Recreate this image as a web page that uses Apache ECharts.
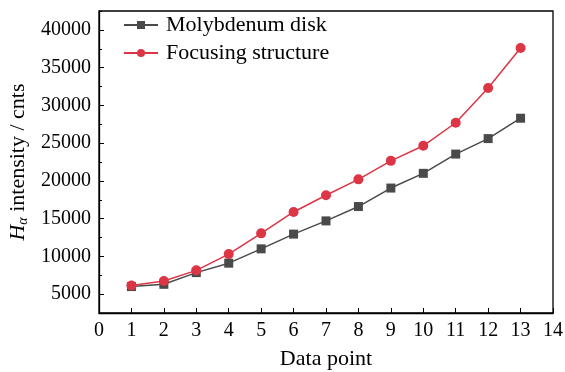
<!DOCTYPE html>
<html><head><meta charset="utf-8">
<script src="https://cdn.jsdelivr.net/npm/echarts@6/dist/echarts.min.js"></script>
<style>html,body{margin:0;padding:0;background:#fff}#c{width:565px;height:372px}</style>
</head><body><div id="c"></div>
<script>
const dataPoints = [1,2,3,4,5,6,7,8,9,10,11,12,13];
const molybdenumDisk = [6000,6300,7850,9100,11000,12950,14700,16600,19050,21000,23550,25600,28300];
const focusingStructure = [6150,6750,8150,10300,13050,15880,18100,20200,22650,24650,27700,32300,37600];
const xTicks = [0,1,2,3,4,5,6,7,8,9,10,11,12,13,14];
const yTicks = [5000,10000,15000,20000,25000,30000,35000,40000];
const yMinorTicks = [2500,7500,12500,17500,22500,27500,32500,37500,42500];

const font = 'Liberation Serif';
const chart = echarts.init(document.getElementById('c'));
chart.setOption({
  animation:false,
  backgroundColor:'#fff',
  grid:{left:99,right:12,top:11,bottom:59,show:true,borderColor:'#000',borderWidth:1.3,backgroundColor:'transparent',containLabel:false,outerBoundsMode:'none'},
  legend:{
    left:123, top:14, padding:0, orient:'vertical', itemWidth:34, itemHeight:10, itemGap:6,
    textStyle:{fontFamily:font,fontSize:22,color:'#000',padding:[0,0,0,3]},
    data:[{name:'Molybdenum disk'},{name:'Focusing structure'}]
  },
  xAxis:{
    type:'value', min:0, max:14, interval:1,
    name:'Data point', nameLocation:'middle', nameGap:35,
    nameTextStyle:{fontFamily:font,fontSize:22,color:'#000'},
    axisLine:{show:true,lineStyle:{color:'#000',width:1.3}},
    axisTick:{show:true,inside:true,length:5,lineStyle:{color:'#000'},customValues:xTicks},
    axisLabel:{fontFamily:font,fontSize:20,color:'#000',margin:8,customValues:xTicks,formatter:v=>String(v)},
    splitLine:{show:false}
  },
  yAxis:[{
    type:'value', min:2500, max:42500,
    name:'{i|H}{s|α} intensity / cnts', nameLocation:'middle', nameGap:67,
    nameTextStyle:{fontFamily:font,fontSize:22,color:'#000',
      rich:{i:{fontFamily:font,fontSize:22,fontStyle:'italic',color:'#000'},
            s:{fontFamily:font,fontSize:14,fontStyle:'italic',color:'#000',verticalAlign:'bottom',padding:[9,0,0,0]}}},
    axisLine:{show:true,lineStyle:{color:'#000',width:1.3}},
    axisTick:{show:true,inside:true,length:5,lineStyle:{color:'#000'},customValues:yTicks},
    axisLabel:{fontFamily:font,fontSize:20,color:'#000',margin:8,customValues:yTicks,formatter:v=>String(v)},
    splitLine:{show:false}
  },{
    type:'value', min:2500, max:42500, position:'left',
    axisLine:{show:false},
    axisTick:{show:true,inside:true,length:3,lineStyle:{color:'#000'},customValues:yMinorTicks},
    axisLabel:{show:false},
    splitLine:{show:false}
  }],
  series:[{
    name:'Molybdenum disk', type:'line', yAxisIndex:0,
    data:dataPoints.map((x,i)=>[x,molybdenumDisk[i]]),
    symbol:'rect', symbolSize:9,
    lineStyle:{color:'#4a4a4a',width:1.5},
    itemStyle:{color:'#4a4a4a'}
  },{
    name:'Focusing structure', type:'line', yAxisIndex:0,
    data:dataPoints.map((x,i)=>[x,focusingStructure[i]]),
    symbol:'circle', symbolSize:10,
    lineStyle:{color:'#dc3545',width:1.5},
    itemStyle:{color:'#dc3545'}
  }]
});
</script></body></html>
